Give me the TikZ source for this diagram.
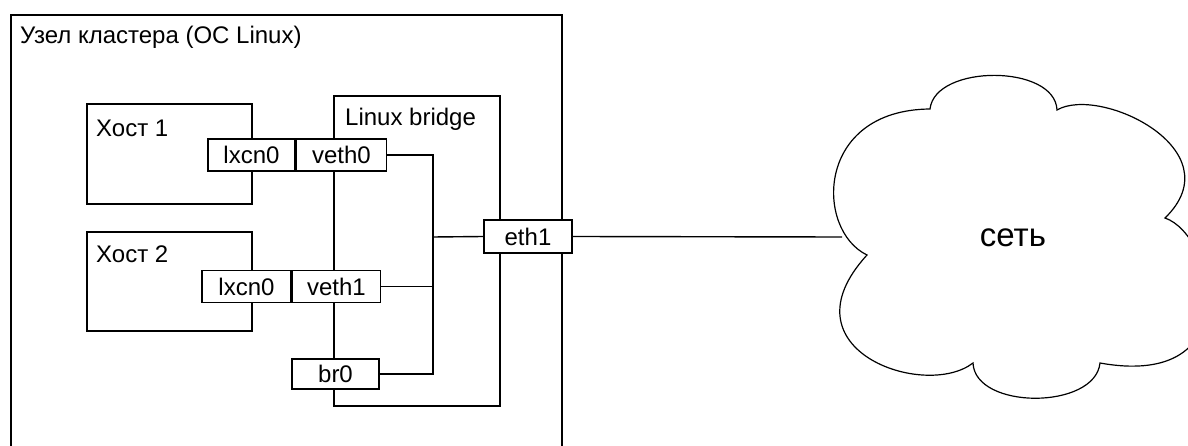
\documentclass[tikz,border=0pt]{standalone}
\usepackage{fontspec}
\setmainfont{Liberation Sans}
\usetikzlibrary{positioning}

\begin{document}
\begin{tikzpicture}[x=1pt,y=-1pt,
	box/.style={draw, line width=1.4pt, inner sep=0pt},
	port/.style={
		draw, fill=white, line width=1.4pt, inner sep=0pt,
		minimum height=32pt, font=\fontsize{24}{28}\selectfont
	},
	caption/.style={anchor=base west, inner sep=0pt, font=\fontsize{24}{28}\selectfont},
	wire/.style={line width=1.4pt}
	]
	\useasboundingbox (0,0) rectangle (1188,446);

	\node[box, minimum width=551pt, minimum height=455pt] (cluster) at (286.5,242.5) {};
	\node[box, minimum width=165pt, minimum height=100pt] (host1) at (169.5,154) {};
	\node[box, minimum width=165pt, minimum height=99pt] (host2) at (169.5,281.5) {};
	\node[box, minimum width=166pt, minimum height=310pt] (bridge) at (417,251) {};

	\node[caption] (clustertitle) at (20,44) {Узел кластера (ОС Linux)};
	\node[caption] (host1title) at (96,137) {Хост 1};
	\node[caption] (host2title) at (96,262) {Хост 2};
	\node[caption] (bridgetitle) at (345,126) {Linux bridge};

	\node[port, minimum width=87pt] (lxc1) at (251.5,155) {lxcn0};
	\node[port, minimum width=90pt, right=0pt of lxc1] (veth0) {veth0};
	\node[port, minimum width=89pt] (lxc2) at (246.5,286.5) {lxcn0};
	\node[port, minimum width=88pt, right=0pt of lxc2] (veth1) {veth1};
	\node[port, minimum width=87pt, minimum height=30pt] (br0) at (335.5,374) {br0};
	\node[port, minimum width=88pt, minimum height=33pt] (eth1) at (528,236.5) {eth1};

	\draw[line width=1.2pt] (930,109) .. controls (935,64) and (1055,64) .. (1057,110)
		.. controls (1100,85) and (1235,150) .. (1165,218)
		.. controls (1215,235) and (1250,390) .. (1100,363)
		.. controls (1095,410) and (975,410) .. (973,363)
		.. controls (925,400) and (780,350) .. (867,255)
		.. controls (815,230) and (815,110) .. (930,109) -- cycle;
	\node[font=\fontsize{33}{40}\selectfont] (net) at (1013,238) {сеть};

	\coordinate (bus) at (433,237);
	\coordinate (cloudin) at (842,237);
	\draw[wire] (veth0.east) -| (bus) |- (br0.east);
	\draw[wire] (veth1.east) -- (veth1.east -| bus);
	\draw[wire] (bus) -- (eth1.west);
	\draw[wire] (eth1.east) -- (cloudin);
\end{tikzpicture}
\end{document}
